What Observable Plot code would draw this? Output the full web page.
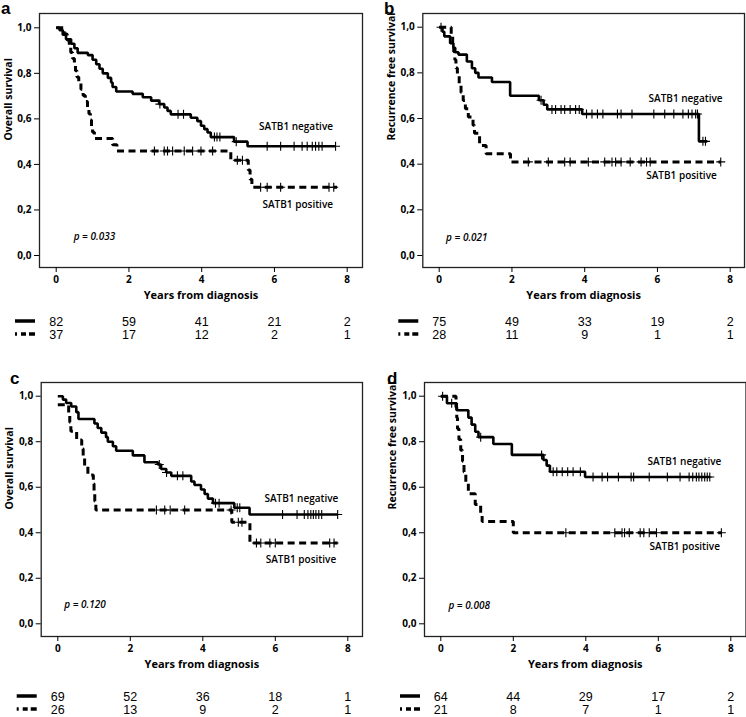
<!DOCTYPE html>
<html><head><meta charset="utf-8">
<script src="https://cdn.jsdelivr.net/npm/d3@7"></script>
<script src="https://cdn.jsdelivr.net/npm/@observablehq/plot@0.6"></script>
<style>
body{margin:0;background:#fff;}
#page{position:relative;width:746px;height:717px;overflow:hidden;background:#fff;}
.panel{position:absolute;width:373px;}
.panel svg{display:block;overflow:visible;}
.letter{position:absolute;font-family:"Liberation Sans",Arial,sans-serif;font-weight:bold;font-size:17px;line-height:19px;}
</style></head><body><div id="page"></div>
<script>
// ---------- data ----------
const xTicks = [0, 2, 4, 6, 8];
const yTicks = [0, 0.2, 0.4, 0.6, 0.8, 1.0];
const riskTimes = [0, 2, 4, 6, 8];

// Panel a: overall survival
const aNegT = [0,0.09,0.18,0.27,0.41,0.50,0.59,0.87,1.00,1.10,1.19,1.28,1.42,1.51,1.55,1.65,2.10,2.38,2.61,2.83,2.97,3.06,3.15,3.70,3.88,3.98,4.07,4.16,4.25,4.89,5.26,7.68];
const aNegS = [1.0,0.99,0.97,0.95,0.93,0.91,0.89,0.88,0.86,0.84,0.82,0.80,0.78,0.76,0.74,0.72,0.71,0.695,0.68,0.665,0.65,0.635,0.62,0.605,0.59,0.57,0.555,0.54,0.52,0.50,0.48,0.48];
const aNegCens = [2.85,3.35,3.5,4.35,4.42,4.5,4.95,5.8,6.17,6.54,6.76,6.9,7.04,7.13,7.22,7.31,7.68];
const aPosT = [0,0.22,0.30,0.36,0.40,0.45,0.50,0.53,0.57,0.62,0.68,0.74,0.80,0.86,0.90,0.94,0.97,1.00,1.05,1.55,1.67,4.80,5.28,5.33,5.38,7.72];
const aPosS = [1.0,0.973,0.946,0.919,0.892,0.865,0.838,0.811,0.784,0.757,0.730,0.703,0.676,0.649,0.622,0.595,0.568,0.541,0.514,0.486,0.459,0.418,0.376,0.335,0.30,0.30];
const aPosCens = [2.7,2.97,3.06,3.2,3.52,3.75,3.98,4.3,4.98,5.12,5.62,5.8,6.17,7.5,7.63];
const aRiskNeg = [82, 59, 41, 21, 2];
const aRiskPos = [37, 17, 12, 2, 1];

// Panel b: recurrence free survival
const bNegT = [0,0.09,0.14,0.30,0.39,0.44,0.53,0.76,0.90,0.99,1.08,1.45,1.95,2.74,2.87,2.97,3.93,7.14,7.37];
const bNegS = [1.0,0.98,0.96,0.93,0.91,0.89,0.88,0.85,0.82,0.80,0.78,0.76,0.70,0.68,0.66,0.64,0.62,0.50,0.50];
const bNegCens = [0.05,2.8,3.1,3.2,3.35,3.45,3.6,3.75,3.85,4.05,4.2,4.35,4.5,4.9,5.0,5.3,5.9,6.2,6.45,6.7,6.85,6.95,7.05,7.1,7.25,7.32];
const bPosT = [0,0.33,0.37,0.40,0.43,0.46,0.50,0.55,0.60,0.66,0.72,0.80,0.93,0.97,1.11,1.29,1.96,7.74];
const bPosS = [1.0,0.964,0.929,0.893,0.857,0.821,0.786,0.75,0.714,0.679,0.643,0.607,0.571,0.536,0.482,0.446,0.41,0.41];
const bPosCens = [2.45,3.0,3.45,3.6,4.1,4.55,4.75,4.85,5.0,5.25,5.55,5.7,5.8,7.74];
const bRiskNeg = [75, 49, 33, 19, 2];
const bRiskPos = [28, 11, 9, 1, 1];

// Panel c: overall survival
const cNegT = [0,0.14,0.23,0.37,0.51,0.57,1.01,1.10,1.20,1.33,1.38,1.52,1.61,2.07,2.39,2.76,2.85,2.99,3.13,3.68,3.77,3.95,4.05,4.14,4.28,4.87,5.29,7.72];
const cNegS = [1.0,0.985,0.97,0.955,0.93,0.90,0.88,0.86,0.84,0.82,0.80,0.78,0.76,0.74,0.71,0.70,0.68,0.665,0.65,0.625,0.61,0.59,0.57,0.55,0.53,0.51,0.48,0.48];
const cNegCens = [2.8,3.0,3.3,3.45,4.35,4.45,4.95,5.02,6.2,6.6,6.8,6.9,6.98,7.05,7.12,7.2,7.28,7.72];
const cPosT = [0,0.30,0.33,0.36,0.52,0.66,0.70,0.74,0.83,0.98,1.00,1.02,1.05,4.80,5.30,7.72];
const cPosS = [0.962,0.923,0.885,0.846,0.808,0.769,0.731,0.692,0.654,0.615,0.577,0.538,0.50,0.446,0.355,0.355];
const cPosCens = [2.72,2.95,3.1,3.5,4.78,4.98,5.08,5.48,5.6,5.85,6.0,7.5,7.62];
const cRiskNeg = [69, 52, 36, 18, 1];
const cRiskPos = [26, 13, 9, 2, 1];

// Panel d: recurrence free survival
const dNegT = [0,0.17,0.44,0.76,0.85,0.95,1.04,1.45,1.96,2.83,2.92,3.01,3.98,7.42];
const dNegS = [1.0,0.969,0.938,0.906,0.875,0.844,0.82,0.79,0.742,0.72,0.695,0.668,0.645,0.645];
const dNegCens = [0.05,0.3,1.1,2.78,3.1,3.2,3.35,3.5,3.65,3.85,4.2,4.45,4.6,4.9,5.25,5.32,5.75,6.25,6.6,6.85,6.95,7.05,7.12,7.2,7.28,7.35,7.42];
const dPosT = [0,0.42,0.44,0.46,0.50,0.55,0.60,0.64,0.69,0.76,0.95,1.10,1.14,2.00,7.74];
const dPosS = [1.0,0.952,0.905,0.857,0.81,0.762,0.714,0.667,0.619,0.571,0.524,0.476,0.45,0.40,0.40];
const dPosCens = [3.45,4.8,5.0,5.07,5.2,5.5,5.6,5.75,5.95,7.74];
const dRiskNeg = [64, 44, 29, 17, 2];
const dRiskPos = [21, 8, 7, 1, 1];

const pValues = ["p = 0.033", "p = 0.021", "p = 0.120", "p = 0.008"];
const yLabels = ["Overall survival", "Recurrence free survival", "Overall survival", "Recurrence free survival"];
const xLabel = "Years from diagnosis";
const groupLabels = ["SATB1 negative", "SATB1 positive"];
const panelLetters = ["a", "b", "c", "d"];

// ---------- layout ----------
const panels = [
  {letter:panelLetters[0], left:0,   top:0,   fl:39,   fr:362,   xr:[55.7,346.7], yr:[255,27.3], rows:[321,334], yl:yLabels[0], p:pValues[0],
   negT:aNegT,negS:aNegS,negC:aNegCens,posT:aPosT,posS:aPosS,posC:aPosCens,rn:aRiskNeg,rp:aRiskPos,
   negLab:[7.61,0.564], posLab:[7.61,0.224], pLab:[0.48,0.08], lx:1, ly:-1, ydx:-31},
  {letter:panelLetters[1], left:373, top:0,   fl:49.3, fr:371,   xr:[65.7,356.7], yr:[255,26.7], rows:[321,334], yl:yLabels[1], p:pValues[1],
   negT:bNegT,negS:bNegS,negC:bNegCens,posT:bPosT,posS:bPosS,posC:bPosCens,rn:bRiskNeg,rp:bRiskPos,
   negLab:[7.79,0.686], posLab:[7.63,0.35], pLab:[0.19,0.077], lx:11, ly:-1, ydx:-31},
  {letter:panelLetters[2], left:0,   top:369, fl:40.7, fr:362,   xr:[57.3,347.3], yr:[254.3,26.7], rows:[696,709], yl:yLabels[2], p:pValues[2],
   negT:cNegT,negS:cNegS,negC:cNegCens,posT:cPosT,posS:cPosS,posC:cPosCens,rn:cRiskNeg,rp:cRiskPos,
   negLab:[7.74,0.549], posLab:[7.68,0.281], pLab:[0.18,0.085], lx:10, ly:0, ydx:-32},
  {letter:panelLetters[3], left:373, top:369, fl:51,   fr:372.5, xr:[67.3,357.3], yr:[254.3,26.7], rows:[696,709], yl:yLabels[3], p:pValues[3],
   negT:dNegT,negS:dNegS,negC:dNegCens,posT:dPosT,posS:dPosS,posC:dPosCens,rn:dRiskNeg,rp:dRiskPos,
   negLab:[7.74,0.712], posLab:[7.70,0.339], pLab:[0.21,0.08], lx:14, ly:0, ydx:-32}
];

const H = 305, FT = 13, FB = 267;
const fmt = d => d3.format(".1f")(d).replace(".", ",");
function stepAt(T, S, t) { let v = S[0]; for (let i = 0; i < T.length; i++) if (T[i] <= t + 1e-9) v = S[i]; return v; }
const page = document.getElementById("page");

panels.forEach(P => {
  const div = document.createElement("div");
  div.className = "panel";
  div.style.left = P.left + "px";
  div.style.top = P.top + "px";
  page.appendChild(div);

  const neg = P.negT.map((t, i) => ({t, s: P.negS[i]}));
  const pos = P.posT.map((t, i) => ({t, s: P.posS[i]}));
  const negC = P.negC.map(t => ({t, s: stepAt(P.negT, P.negS, t)}));
  const posC = P.posC.map(t => ({t, s: stepAt(P.posT, P.posS, t)}));
  const labels = [
    {x: P.negLab[0], y: P.negLab[1], text: groupLabels[0]},
    {x: P.posLab[0], y: P.posLab[1], text: groupLabels[1]}
  ];

  const chart = Plot.plot({
    width: 373, height: H,
    marginLeft: P.fl, marginRight: 373 - P.fr, marginTop: FT, marginBottom: H - FB,
    x: {domain: [0, 8], range: P.xr},
    y: {domain: [0, 1], range: P.yr},
    style: {fontFamily: "'Open Sans', sans-serif", fontSize: "10px", fontWeight: "bold", color: "#000", background: "transparent", overflow: "visible"},
    marks: [
      Plot.frame({stroke: "#222", strokeWidth: 1.3}),
      Plot.axisY(yTicks, {tickSize: 5, tickPadding: 3, tickFormat: fmt, label: null, stroke: "#000"}),
      Plot.axisX(xTicks, {tickSize: 5, tickPadding: 3, tickFormat: d => String(d), label: null, stroke: "#000"}),
      Plot.text([P.yl], {frameAnchor: "left", rotate: -90, dx: P.ydx, fontSize: 10.5, fontWeight: "bold", fill: "#000"}),
      Plot.text([xLabel], {frameAnchor: "bottom", dy: 31, fontSize: 11, fontWeight: "bold", fill: "#000"}),
      Plot.line(neg, {x: "t", y: "s", curve: "step-after", stroke: "#000", strokeWidth: 2.6, strokeLinecap: "butt", strokeLinejoin: "miter"}),
      Plot.line(pos, {x: "t", y: "s", curve: "step-after", stroke: "#000", strokeWidth: 3, strokeDasharray: "7,4.5", strokeLinecap: "butt", strokeLinejoin: "miter"}),
      Plot.dot(negC, {x: "t", y: "s", symbol: "plus", r: 3, stroke: "#000", strokeWidth: 1.1}),
      Plot.dot(posC, {x: "t", y: "s", symbol: "plus", r: 3, stroke: "#000", strokeWidth: 1.1}),
      Plot.text(labels, {x: "x", y: "y", text: "text", textAnchor: "end", fontSize: 10, fontWeight: 600, fill: "#000"}),
      Plot.text([P.p], {x: () => P.pLab[0], y: () => P.pLab[1], textAnchor: "start", fontSize: 10, fontStyle: "italic", fontWeight: 600, fill: "#000"})
    ]
  });
  div.appendChild(chart);

  // number-at-risk table (row positions in page pixels, converted to panel-local)
  const rows = [];
  riskTimes.forEach((t, i) => { rows.push({t, g: "neg", n: P.rn[i]}); rows.push({t, g: "pos", n: P.rp[i]}); });
  const tTop = P.top + H;
  const table = Plot.plot({
    width: 373, height: 48, margin: 0,
    x: {domain: [0, 8], range: P.xr, axis: null},
    y: {type: "point", domain: ["neg", "pos"], range: [P.rows[0] - tTop, P.rows[1] - tTop], padding: 0, axis: null},
    style: {fontFamily: "'Liberation Sans', Arial, sans-serif", fontSize: "12.5px", color: "#000", background: "transparent", overflow: "visible"},
    marks: [
      Plot.text(rows, {x: "t", y: "g", text: "n", fontSize: 12.5, fill: "#000"})
    ]
  });
  const ys = table.scale("y");
  const svg = d3.select(table);
  svg.append("line").attr("x1", P.fl - 24).attr("x2", P.fl - 4)
    .attr("y1", ys.apply("neg")).attr("y2", ys.apply("neg"))
    .attr("stroke", "#000").attr("stroke-width", 3.5);
  svg.append("line").attr("x1", P.fl - 24).attr("x2", P.fl - 4)
    .attr("y1", ys.apply("pos")).attr("y2", ys.apply("pos"))
    .attr("stroke", "#000").attr("stroke-width", 3.5).attr("stroke-dasharray", "2,4,5,3,6");
  div.appendChild(table);

  const L = document.createElement("div");
  L.className = "letter";
  L.textContent = P.letter;
  L.style.left = (P.left + P.lx) + "px";
  L.style.top = (P.top + P.ly) + "px";
  page.appendChild(L);
});
</script>
</body></html>
